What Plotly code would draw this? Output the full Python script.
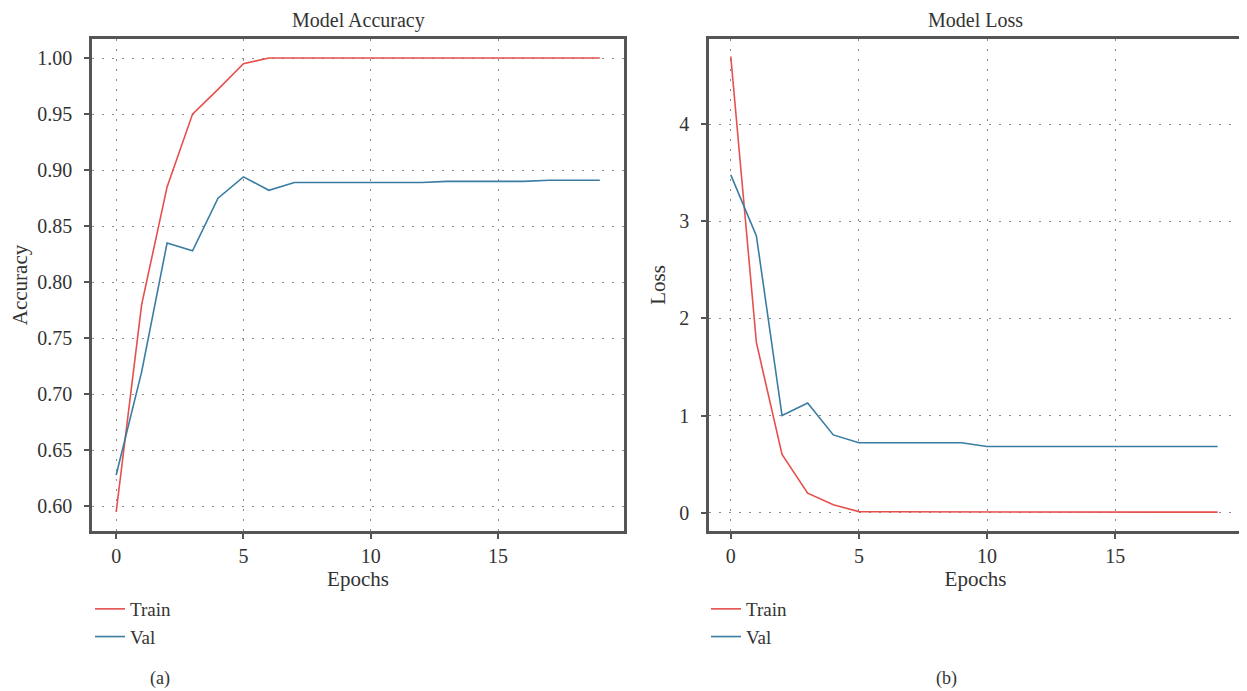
import plotly.graph_objects as go

epochs = list(range(20))
acc_train = [0.595, 0.780, 0.885, 0.950, 0.972, 0.995, 1.0, 1.0, 1.0, 1.0,
             1.0, 1.0, 1.0, 1.0, 1.0, 1.0, 1.0, 1.0, 1.0, 1.0]
acc_val = [0.628, 0.720, 0.835, 0.828, 0.875, 0.894, 0.882, 0.889, 0.889, 0.889,
           0.889, 0.889, 0.889, 0.890, 0.890, 0.890, 0.890, 0.891, 0.891, 0.891]
loss_train = [4.70, 1.75, 0.60, 0.20, 0.08, 0.01, 0.008, 0.007, 0.006, 0.006,
              0.005, 0.005, 0.005, 0.005, 0.005, 0.005, 0.005, 0.005, 0.005, 0.005]
loss_val = [3.48, 2.85, 1.00, 1.13, 0.80, 0.72, 0.72, 0.72, 0.72, 0.72,
            0.68, 0.68, 0.68, 0.68, 0.68, 0.68, 0.68, 0.68, 0.68, 0.68]

RED = "#e5504d"
BLUE = "#3a7ca3"
FONT = "Liberation Serif"
OFF = 8  # default page margin around the plot
W, H = 1247 - OFF, 691 - OFF

fig = go.Figure()
fig.add_trace(go.Scatter(x=epochs, y=acc_train, mode="lines", name="Train",
                         line=dict(color=RED, width=1.6), xaxis="x", yaxis="y", legend="legend"))
fig.add_trace(go.Scatter(x=epochs, y=acc_val, mode="lines", name="Val",
                         line=dict(color=BLUE, width=1.6), xaxis="x", yaxis="y", legend="legend"))
fig.add_trace(go.Scatter(x=epochs, y=loss_train, mode="lines", name="Train",
                         line=dict(color=RED, width=1.6), xaxis="x2", yaxis="y2", legend="legend2"))
fig.add_trace(go.Scatter(x=epochs, y=loss_val, mode="lines", name="Val",
                         line=dict(color=BLUE, width=1.6), xaxis="x2", yaxis="y2", legend="legend2"))

def px_x(p):
    return (p - OFF) / W

def px_y(p):
    return 1 - (p - OFF) / H

common_axis = dict(showline=True, mirror=True, linecolor="#555555", linewidth=2.5,
                   showgrid=True, gridcolor="#8a8a8a", griddash="2px,8px", gridwidth=1.2,
                   ticks="outside", ticklen=5, tickcolor="#555555", tickwidth=1.5,
                   zeroline=False, tickfont=dict(family=FONT, size=20, color="#333333"))
title_font = dict(family=FONT, size=21, color="#333333")

def label(text, x, y, size):
    return dict(text=text, x=px_x(x), y=px_y(y), xref="paper", yref="paper",
                xanchor="center", yanchor="middle", showarrow=False,
                font=dict(family=FONT, size=size, color="#333333"))

fig.update_layout(
    width=W, height=H,
    margin=dict(l=0, r=0, t=0, b=0),
    paper_bgcolor="white", plot_bgcolor="white",
    font=dict(family=FONT, color="#333333"),
    xaxis=dict(domain=[px_x(92), px_x(624)], anchor="y", range=[-0.95, 19.95],
               tickvals=[0, 5, 10, 15], title=dict(text="Epochs", font=title_font, standoff=0),
               **common_axis),
    yaxis=dict(domain=[px_y(531), px_y(39)], anchor="x", range=[0.578, 1.017],
               tickvals=[0.60, 0.65, 0.70, 0.75, 0.80, 0.85, 0.90, 0.95, 1.00], tickformat=".2f",
               ticklabelstandoff=8,
               title=dict(text="Accuracy", font=title_font, standoff=6),
               **common_axis),
    xaxis2=dict(domain=[px_x(709), px_x(1242)], anchor="y2", range=[-0.85, 19.95],
                tickvals=[0, 5, 10, 15], title=dict(text="Epochs", font=title_font, standoff=0),
                **common_axis),
    yaxis2=dict(domain=[px_y(531), px_y(39)], anchor="x2", range=[-0.19, 4.88],
                tickvals=[0, 1, 2, 3, 4], ticklabelstandoff=8,
                title=dict(text="Loss", font=title_font, standoff=8),
                **common_axis),
    legend=dict(x=px_x(90), y=px_y(590), xanchor="left", yanchor="top",
                bgcolor="rgba(0,0,0,0)", font=dict(family=FONT, size=19), tracegroupgap=0),
    legend2=dict(x=px_x(706), y=px_y(590), xanchor="left", yanchor="top",
                 bgcolor="rgba(0,0,0,0)", font=dict(family=FONT, size=19), tracegroupgap=0),
    annotations=[
        label("Model Accuracy", 358, 20, 20),
        label("Model Loss", 975, 20, 20),
        label("(a)", 160, 678, 18),
        label("(b)", 946, 678, 18),
    ],
)

fig.write_html("out.html")
